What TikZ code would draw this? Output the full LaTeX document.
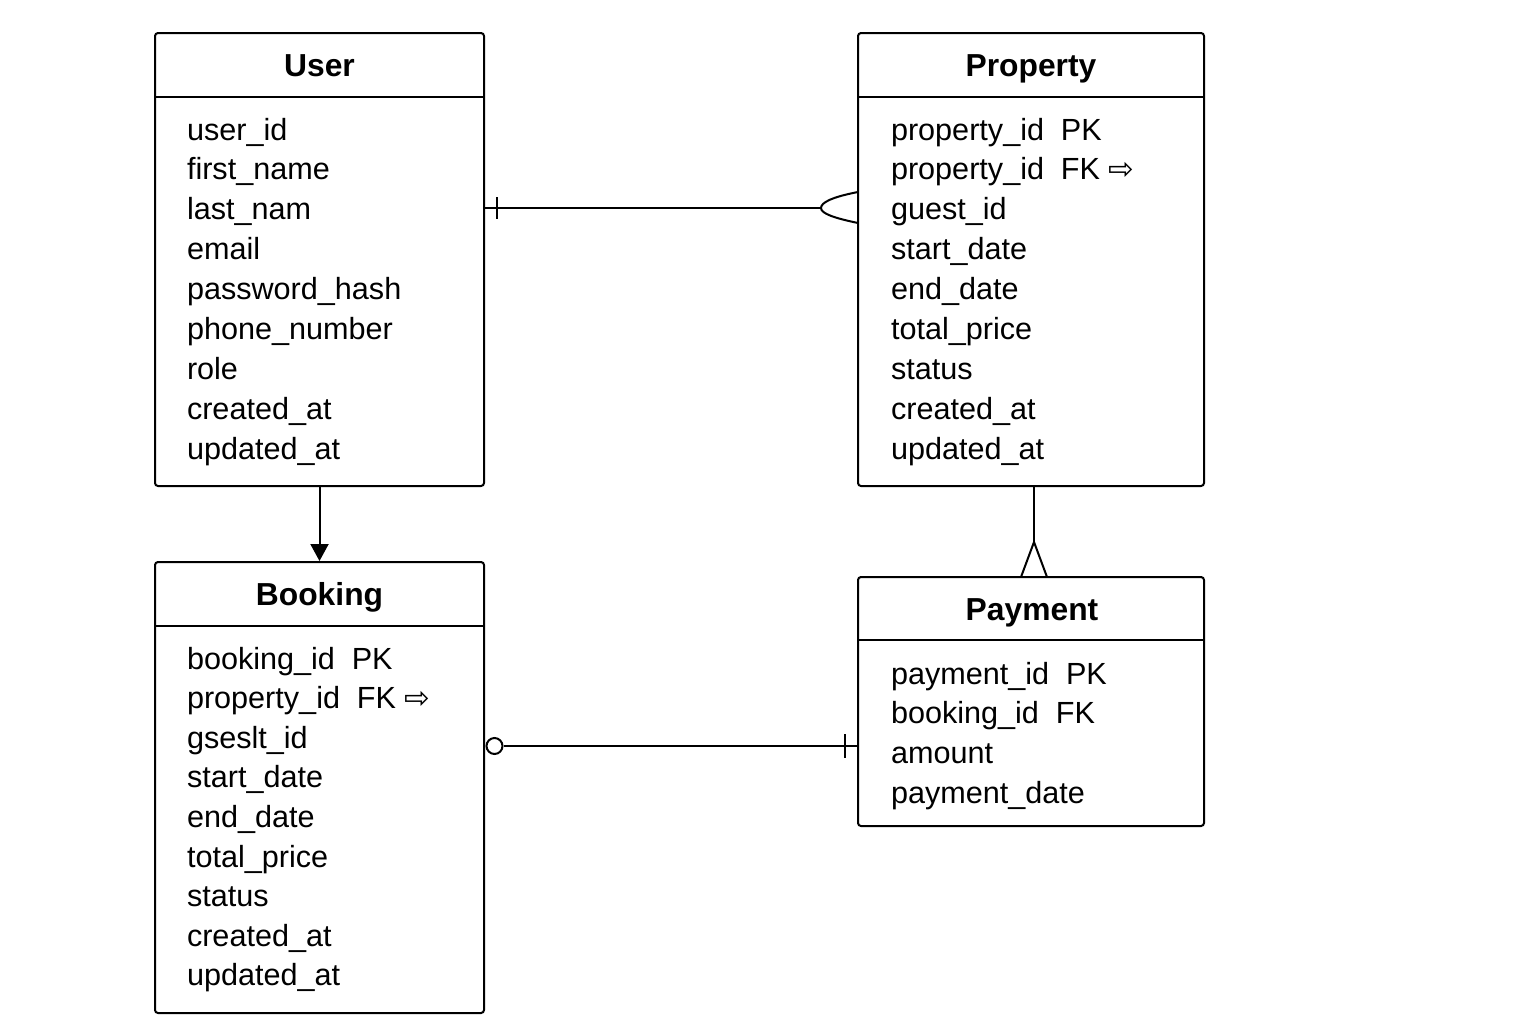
\documentclass[tikz,border=0pt]{standalone}
\usepackage{fontspec}
\setmainfont{Liberation Sans}
\newfontfamily\symfont{DejaVu Sans}
\usetikzlibrary{arrows.meta}
\newcommand\colgap{\hspace{0.55em}}
\begin{document}
\begin{tikzpicture}[x=0.5pt,y=-0.5pt, line width=1pt,
  entity/.style={draw, rounded corners=1.5pt, inner sep=0pt, line width=1pt},
  attr/.style={anchor=base west, inner sep=0pt, font=\fontsize{15.3}{18}\selectfont},
  etitle/.style={anchor=base, inner sep=0pt, font=\fontsize{15.9}{18}\selectfont\bfseries},
  conn/.style={line width=1pt}]
\useasboundingbox (0,0) rectangle (1536,1024);
\fill[white] (0,0) rectangle (1536,1024);

% entities
\node[entity, minimum width=164.5pt, minimum height=226.5pt] (user) at (319.5,259.5) {};
\node[entity, minimum width=173pt, minimum height=226.5pt] (property) at (1031,259.5) {};
\node[entity, minimum width=164.5pt, minimum height=225.5pt] (booking) at (319.5,787.5) {};
\node[entity, minimum width=173pt, minimum height=124.5pt] (payment) at (1031,701.5) {};

% header lines
\draw (user.west |- 0,97) -- (user.east |- 0,97);
\draw (property.west |- 0,97) -- (property.east |- 0,97);
\draw (booking.west |- 0,626) -- (booking.east |- 0,626);
\draw (payment.west |- 0,640) -- (payment.east |- 0,640);

% titles
\node[etitle] (userT) at (319.5,76) {User};
\node[etitle] (propertyT) at (1031,76) {Property};
\node[etitle] (bookingT) at (319.5,605) {Booking};
\node[etitle] (paymentT) at (1032,620) {Payment};

% attributes
\foreach \t [count=\i from 0] in {user\_id, first\_name, last\_nam, email, password\_hash, phone\_number, role, created\_at, updated\_at}
  \node[attr] (u\i) at (186,140+\i*39.9) {\t};
\foreach \t [count=\i from 0] in {{property\_id\colgap PK}, {property\_id\colgap FK {\symfont ⇨}}, guest\_id, start\_date, end\_date, total\_price, status, created\_at, updated\_at}
  \node[attr] (p\i) at (890,140+\i*39.9) {\t};
\foreach \t [count=\i from 0] in {{booking\_id\colgap PK}, {property\_id\colgap FK {\symfont ⇨}}, gseslt\_id, start\_date, end\_date, total\_price, status, created\_at, updated\_at}
  \node[attr] (b\i) at (186,669+\i*39.6) {\t};
\foreach \t [count=\i from 0] in {{payment\_id\colgap PK}, {booking\_id\colgap FK}, amount, payment\_date}
  \node[attr] (y\i) at (890,684+\i*39.67) {\t};

% User -- Property (one to many)
\coordinate (upApex) at (821,208);
\draw[conn] (user.east |- upApex) -- (upApex);
\draw[conn] (497,197) -- (497,219);
\draw[conn] (858,192) .. controls (832,197) and (821,202.5) .. (upApex)
  .. controls (821,213.5) and (834,218) .. (858,223);

% User -> Booking
\draw[conn, -{Triangle[length=8.5pt,width=9pt]}] (user.south) -- (booking.north);

% Property -- Payment
\coordinate (pp1) at (1034,486);
\coordinate (ppApex) at (1034,542);
\draw[conn] (pp1) -- (ppApex);
\draw[conn] (1021,577) -- (ppApex) -- (1047,577);

% Booking -- Payment
\node[circle, draw, line width=1pt, minimum size=8pt, inner sep=0pt, fill=white] (opt) at (494.5,746) {};
\draw[conn] (opt) -- (payment.west |- 0,746);
\draw[conn] (845,734) -- (845,758);
\end{tikzpicture}
\end{document}
